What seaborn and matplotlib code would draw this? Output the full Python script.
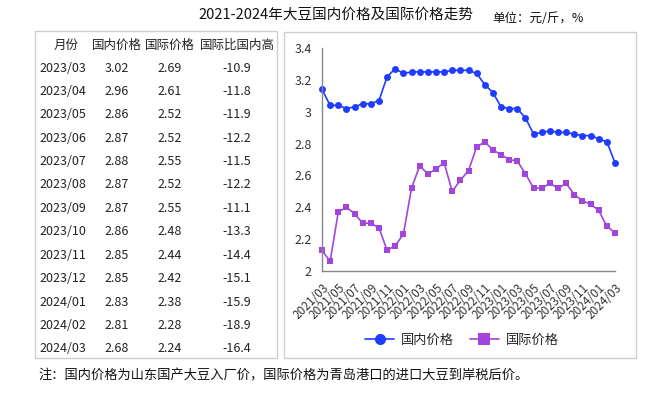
import pandas as pd
import matplotlib.pyplot as plt
import matplotlib.patches as mpatches
import seaborn as sns

# monthly data 2021/03 - 2024/03
months = pd.period_range("2021-03", "2024-03", freq="M").strftime("%Y/%m").tolist()
domestic = [3.14, 3.04, 3.04, 3.02, 3.03, 3.05, 3.05, 3.07, 3.22, 3.27,
            3.24, 3.25, 3.25, 3.25, 3.25, 3.25, 3.26, 3.26, 3.26, 3.24,
            3.17, 3.12, 3.03, 3.02, 3.02, 2.96, 2.86, 2.87, 2.88, 2.87,
            2.87, 2.86, 2.85, 2.85, 2.83, 2.81, 2.68]
international = [2.13, 2.06, 2.37, 2.40, 2.36, 2.30, 2.30, 2.27, 2.13, 2.16,
                 2.23, 2.52, 2.66, 2.61, 2.64, 2.68, 2.50, 2.57, 2.63, 2.78,
                 2.81, 2.76, 2.73, 2.70, 2.69, 2.61, 2.52, 2.52, 2.55, 2.52,
                 2.55, 2.48, 2.44, 2.42, 2.38, 2.28, 2.24]

# table (last 13 months)
table_months = months[-13:]
table_domestic = domestic[-13:]
table_international = international[-13:]
table_ratio = [-10.9, -11.8, -11.9, -12.2, -11.5, -12.2, -11.1,
               -13.3, -14.4, -15.1, -15.9, -18.9, -16.4]
table_header = ["月份", "国内价格", "国际价格", "国际比国内高"]

sns.set_style("white")
plt.rcParams['font.family'] = ['Noto Sans CJK SC', 'DejaVu Sans']

df = pd.DataFrame({
    "idx": list(range(len(months))) * 2,
    "price": domestic + international,
    "series": ["国内价格"] * len(months) + ["国际价格"] * len(months),
})

W, H = 668, 393
fig = plt.figure(figsize=(W / 100, H / 100), dpi=100)

def fx(x):
    return x / W

def fy(y):
    return 1 - y / H

# boxes
fig.patches.append(mpatches.Rectangle((fx(35), fy(358)), fx(277 - 35), (358 - 31) / H,
                                      transform=fig.transFigure, fill=False,
                                      edgecolor="#cfcfcf", linewidth=1))
fig.patches.append(mpatches.Rectangle((fx(284), fy(358)), fx(636 - 284), (358 - 32) / H,
                                      transform=fig.transFigure, fill=False,
                                      edgecolor="#cfcfcf", linewidth=1))

# titles
fig.text(fx(336), fy(15), "2021-2024年大豆国内价格及国际价格走势", ha="center", va="center",
         fontsize=10.5, color="#111111")
fig.text(fx(492), fy(18), "单位：元/斤，%", ha="left", va="center", fontsize=9, color="#111111")
fig.text(fx(38), fy(376), "注：国内价格为山东国产大豆入厂价，国际价格为青岛港口的进口大豆到岸税后价。",
         ha="left", va="center", fontsize=9.5, color="#111111")

# table
col_x = [66, 117, 170, 237]
fig_txt = dict(ha="center", va="center", fontsize=9, color="#222222")
for x, h in zip(col_x, table_header):
    fig.text(fx(x), fy(45), h, **fig_txt)
for i in range(len(table_months)):
    y = 68 + i * 23.4
    row = [table_months[i], f"{table_domestic[i]:.2f}", f"{table_international[i]:.2f}",
           f"{table_ratio[i]:.1f}"]
    for j, (x, v) in enumerate(zip(col_x, row)):
        fig.text(fx(63 if j == 0 else x), fy(y), v, **fig_txt)

# line chart
ax = fig.add_axes([fx(322), fy(271), fx(615 - 322), (271 - 48) / H])
palette = {"国内价格": "#1f3cff", "国际价格": "#a245dd"}
sns.lineplot(data=df, x="idx", y="price", hue="series", style="series",
             markers={"国内价格": "o", "国际价格": "s"}, dashes=False,
             palette=palette, linewidth=1.2, markersize=5, markeredgewidth=0, ax=ax)
for ln in ax.lines:
    ln.set_clip_on(False)

ax.set_xlim(0, len(months) - 1)
ax.set_ylim(2, 3.4)
ax.set_yticks([2, 2.2, 2.4, 2.6, 2.8, 3, 3.2, 3.4])
ax.set_yticklabels(["2", "2.2", "2.4", "2.6", "2.8", "3", "3.2", "3.4"])
ax.set_xticks(range(0, len(months), 2))
ax.set_xticklabels(months[::2], rotation=45, ha="right", rotation_mode="anchor")
ax.set_xlabel("")
ax.set_ylabel("")
for s in ["top", "right"]:
    ax.spines[s].set_visible(False)
for s in ["left", "bottom"]:
    ax.spines[s].set_color("#888888")
    ax.spines[s].set_linewidth(1)
ax.tick_params(axis="both", colors="#888888", length=4, width=1, labelcolor="#333333")
ax.tick_params(axis="y", labelsize=9)
ax.tick_params(axis="x", labelsize=8.5)

handles, labels = ax.get_legend_handles_labels()
ax.get_legend().remove()
fig.legend(handles, labels, loc="center", bbox_to_anchor=(fx(462), fy(340)), ncol=2,
           frameon=False, fontsize=9.5, handlelength=2.2, columnspacing=1.2,
           markerscale=1.6, handletextpad=0.5)

fig.savefig("out.png", dpi=100)
